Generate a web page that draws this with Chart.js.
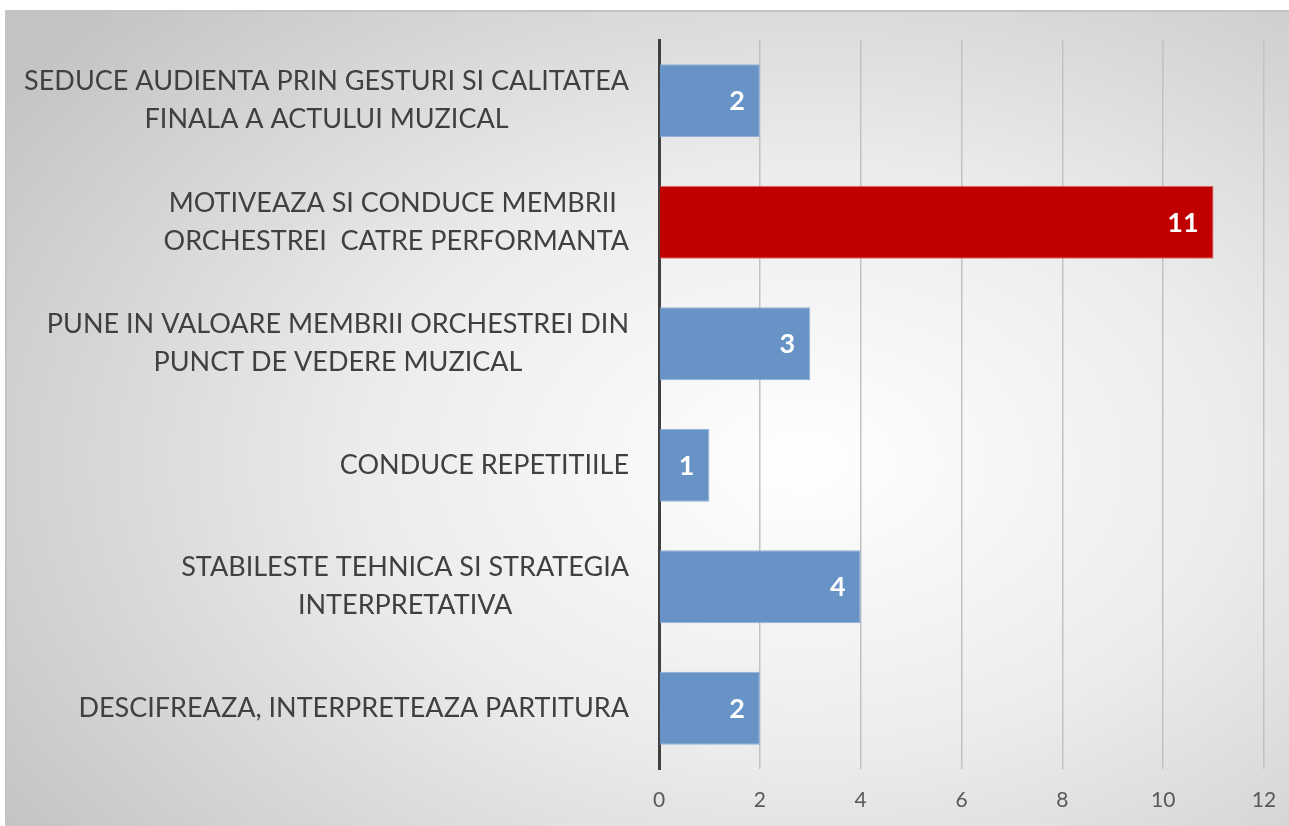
<!DOCTYPE html>
<html>
<head>
<meta charset="utf-8">
<script src="https://cdn.jsdelivr.net/npm/chart.js@4/dist/chart.umd.min.js"></script>
<style>
  html, body { margin: 0; padding: 0; background: #ffffff; }
  #panel {
    position: absolute; left: 5px; top: 10px; width: 1284px; height: 816px;
    border-top: 2px solid #c4c4c4; border-left: 2px solid #c4c4c4;
    background: radial-gradient(ellipse 75% 80% at 62% 55%, #ffffff 0%, #ececec 45%, #c4c4c4 100%);
  }
  #wrap { position: absolute; left: 0; top: 0; width: 1289px; height: 826px; }
</style>
</head>
<body>
<div id="panel"></div>
<div id="wrap"><canvas id="barChart" width="1289" height="826"></canvas></div>
<script>
// etichete categorii (de sus in jos)
const categorii = [
    ['SEDUCE AUDIENTA PRIN GESTURI SI CALITATEA', 'FINALA A ACTULUI MUZICAL'],
    ['MOTIVEAZA SI CONDUCE MEMBRII ', 'ORCHESTREI  CATRE PERFORMANTA'],
    ['PUNE IN VALOARE MEMBRII ORCHESTREI DIN', 'PUNCT DE VEDERE MUZICAL'],
    'CONDUCE REPETITIILE',
    ['STABILESTE TEHNICA SI STRATEGIA', 'INTERPRETATIVA'],
    'DESCIFREAZA, INTERPRETEAZA PARTITURA'
];
const valori = [2, 11, 3, 1, 4, 2];
const culori = ['#6793c6', '#c00000', '#6793c6', '#6793c6', '#6793c6', '#6793c6'];
const contururi = ['#8eb0da', '#e07070', '#8eb0da', '#8eb0da', '#8eb0da', '#8eb0da'];
const axaMin = 0;
const axaMax = 12;
const pas = 2;

const FONT = 'Lato, "Open Sans", sans-serif';

// etichetele de pe axa y: blocul aliniat la dreapta, randurile centrate intre ele
const eticheteCategorii = {
    id: 'eticheteCategorii',
    afterDraw(chart) {
        const ctx = chart.ctx;
        const scale = chart.scales.y;
        const dreapta = chart.chartArea.left - 30;
        const inaltimeRand = 38;
        ctx.save();
        ctx.font = '27px ' + FONT;
        ctx.fillStyle = '#404040';
        ctx.textAlign = 'center';
        ctx.textBaseline = 'middle';
        chart.data.labels.forEach((lab, i) => {
            const randuri = Array.isArray(lab) ? lab : [lab];
            const latime = Math.max(...randuri.map(r => ctx.measureText(r.trimEnd()).width));
            const cx = dreapta - latime / 2;
            const y0 = scale.getPixelForValue(i) - (randuri.length - 1) * inaltimeRand / 2;
            randuri.forEach((r, k) => ctx.fillText(r, cx, y0 + k * inaltimeRand));
        });
        ctx.restore();
    }
};

// scrie valoarea in interiorul barei, la capat
const eticheteValori = {
    id: 'eticheteValori',
    afterDatasetsDraw(chart) {
        const ctx = chart.ctx;
        const meta = chart.getDatasetMeta(0);
        ctx.save();
        ctx.font = 'bold 27px ' + FONT;
        ctx.fillStyle = '#ffffff';
        ctx.textAlign = 'right';
        ctx.textBaseline = 'middle';
        meta.data.forEach((bar, i) => {
            ctx.fillText(String(valori[i]), bar.x - 15, bar.y + 1);
        });
        ctx.restore();
    }
};

const ctx = document.getElementById('barChart').getContext('2d');
new Chart(ctx, {
    type: 'bar',
    data: {
        labels: categorii,
        datasets: [{
            data: valori,
            backgroundColor: culori,
            borderColor: contururi,
            borderWidth: 1,
            borderSkipped: 'start',
            barPercentage: 0.6,
            categoryPercentage: 1
        }]
    },
    options: {
        indexAxis: 'y',
        responsive: false,
        animation: false,
        layout: { padding: { top: 40, right: 25, left: 0, bottom: 0 } },
        plugins: {
            legend: { display: false },
            tooltip: { enabled: false }
        },
        scales: {
            x: {
                min: axaMin,
                max: axaMax,
                ticks: {
                    stepSize: pas,
                    color: '#595959',
                    font: { family: FONT, size: 21 },
                    padding: 19
                },
                grid: { color: '#c2c2c2', lineWidth: 1.5, drawTicks: false },
                border: { display: false },
                afterFit(scale) {
                    scale.height = 826 - 769;
                    scale.paddingLeft = 0;
                    scale.paddingRight = 0;
                }
            },
            y: {
                ticks: { display: false },
                grid: { display: false, drawTicks: false },
                border: { display: true, color: '#404040', width: 3 },
                afterFit(scale) { scale.width = 659; }
            }
        }
    },
    plugins: [eticheteValori, eticheteCategorii]
});
</script>
</body>
</html>
